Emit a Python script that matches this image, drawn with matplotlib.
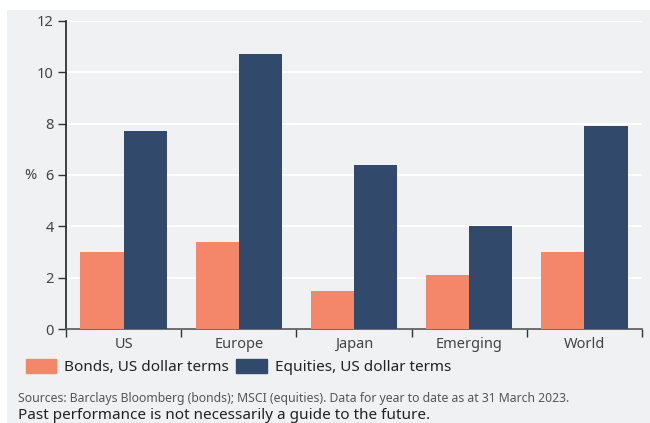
import matplotlib.pyplot as plt
from matplotlib.patches import Rectangle, Patch
import numpy as np

plt.rcParams['font.family'] = ['Noto Sans', 'DejaVu Sans']

# data
regions = ['US', 'Europe', 'Japan', 'Emerging', 'World']
bonds = [3.0, 3.4, 1.5, 2.1, 3.0]
equities = [7.7, 10.7, 6.4, 4.0, 7.9]

bond_col = '#f4866a'
eq_col = '#314a6b'
bg = '#f0f1f3'
txt = '#444444'

fig = plt.figure(figsize=(6.5, 4.23), dpi=100)
fig.patch.set_facecolor('white')
# grey panel behind everything
fig.patches.append(Rectangle((7 / 650, 0), 1, 1 - 10 / 423, transform=fig.transFigure,
                             facecolor=bg, edgecolor='none', zorder=-1))

ax = fig.add_axes([66 / 650, 94 / 423, 576 / 650, 308 / 423])
ax.set_facecolor(bg)

x = np.arange(len(regions))
w = 0.375
ax.bar(x - w / 2, bonds, w, color=bond_col, zorder=3)
ax.bar(x + w / 2, equities, w, color=eq_col, zorder=3)

ax.set_xlim(-0.5, len(regions) - 0.5)
ax.set_ylim(0, 12)
ax.set_yticks(range(0, 13, 2))
ax.yaxis.grid(True, color='white', linewidth=1.5, zorder=0)
ax.set_axisbelow(True)

ax.set_xticks(x)
ax.set_xticklabels(regions)
ax.set_xticks(np.arange(-0.5, len(regions)), minor=True)
ax.tick_params(axis='x', which='major', length=0, pad=6, labelsize=10.5, labelcolor=txt)
ax.tick_params(axis='x', which='minor', length=6, width=1, color='#333333')
ax.tick_params(axis='y', length=6, width=1, color='#333333', labelsize=10.5, labelcolor=txt, pad=3)

for s in ['top', 'right']:
    ax.spines[s].set_visible(False)
ax.spines['left'].set_color('#222222')
ax.spines['bottom'].set_color('#555555')
ax.spines['left'].set_linewidth(1.2)
ax.spines['bottom'].set_linewidth(1.2)

fig.text(30 / 650, 1 - 175 / 423, '%', fontsize=10.5, color=txt, ha='center', va='center')

handles = [Patch(color=bond_col, label='Bonds, US dollar terms'),
           Patch(color=eq_col, label='Equities, US dollar terms')]
fig.legend(handles=handles, loc='center left', bbox_to_anchor=(12 / 650, 1 - 367 / 423),
           ncol=2, frameon=False, fontsize=11, handlelength=2.0, handleheight=1.0,
           handletextpad=0.5, columnspacing=0.5, labelcolor='#222222')

fig.text(18 / 650, 1 - 398 / 423,
         'Sources: Barclays Bloomberg (bonds); MSCI (equities). Data for year to date as at 31 March 2023.',
         fontsize=8.8, color='#555555', va='center')
fig.text(18 / 650, 1 - 415 / 423, 'Past performance is not necessarily a guide to the future.',
         fontsize=11, color='#222222', va='center')

fig.savefig('out.png', dpi=100)
